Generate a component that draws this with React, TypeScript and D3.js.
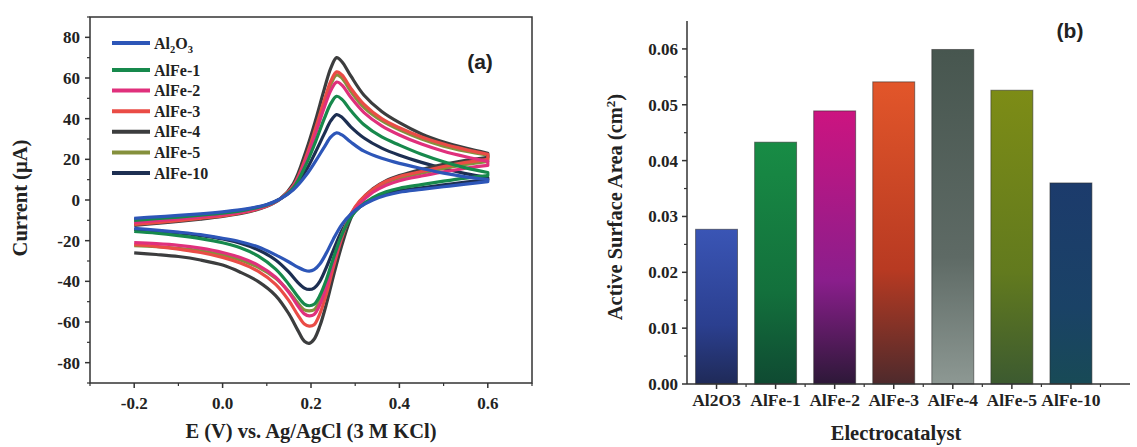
import React from "react";
import * as d3 from "d3";

// ---------- Panel (a): cyclic voltammograms ----------
const SERIES_NAMES = ["Al2O3", "AlFe-1", "AlFe-2", "AlFe-3", "AlFe-4", "AlFe-5", "AlFe-10"];

// potential (V) sampled on the forward (anodic) and reverse (cathodic) sweeps
const E_FWD = [-0.2, -0.15, -0.1, -0.05, 0.0, 0.05, 0.1, 0.13, 0.16, 0.19, 0.21, 0.23, 0.245, 0.258, 0.27, 0.29, 0.32, 0.36, 0.4, 0.45, 0.5, 0.55, 0.6];
const E_REV = [0.6, 0.55, 0.5, 0.45, 0.4, 0.37, 0.34, 0.31, 0.29, 0.27, 0.25, 0.235, 0.22, 0.207, 0.196, 0.185, 0.17, 0.15, 0.12, 0.08, 0.04, 0.0, -0.05, -0.1, -0.15, -0.2];

// current (µA) on the forward sweep
const I_FWD_AL2O3 = [-9, -8.3, -7.6, -6.8, -5.8, -4.5, -2.2, 0.5, 5, 12.5, 19, 26, 31, 33, 32, 28.5, 24, 20.5, 18, 15.5, 13.2, 11.4, 10];
const I_FWD_ALFE1 = [-10, -9.2, -8.4, -7.5, -6.5, -5, -2.5, 0.5, 6, 18, 28.5, 40, 47.5, 51, 49.5, 44, 37, 31, 27, 22.5, 18.8, 15.8, 13.5];
const I_FWD_ALFE2 = [-11, -10.2, -9.3, -8.3, -7.2, -5.6, -2.8, 0.5, 6.5, 20.5, 32.5, 45.5, 54, 58, 56.5, 50.5, 43, 36.5, 32, 27.5, 24, 21.3, 19];
const I_FWD_ALFE3 = [-12, -11.1, -10.1, -9, -7.8, -6, -3, 0.5, 7, 22, 35, 49, 58.5, 63, 61.5, 55, 47, 40, 35.5, 31, 27.5, 24.8, 22.5];
const I_FWD_ALFE4 = [-12.5, -11.5, -10.5, -9.4, -8.1, -6.3, -3.1, 0.5, 8, 25, 39, 54.5, 65, 70, 68, 61, 51.5, 43.5, 38, 32.5, 28.5, 25.5, 23];
const I_FWD_ALFE5 = [-11, -10.2, -9.3, -8.3, -7.2, -5.6, -2.8, 0.5, 7, 21.5, 34.5, 48, 57, 61.5, 60, 53.5, 45.5, 39, 34.5, 30, 26.5, 24, 22];
const I_FWD_ALFE10 = [-9.5, -8.8, -8, -7.2, -6.2, -4.8, -2.4, 0.5, 5.5, 15, 23.5, 32.5, 39, 42, 40.7, 36, 30.5, 25.5, 22, 18.5, 15.5, 13, 11];

// current (µA) on the reverse sweep
const I_REV_AL2O3 = [9, 7.8, 6.5, 5.2, 3.8, 2.3, 0, -3.5, -7, -12, -19.5, -26, -31.5, -34.3, -35, -34.5, -33, -30.5, -27, -23, -20.5, -18.8, -17, -15.8, -14.8, -14];
const I_REV_ALFE1 = [12, 10.8, 9.3, 7.6, 5.8, 4, 1.2, -3.5, -8.5, -17, -29, -39, -47, -51.3, -52, -51.2, -47.5, -41.5, -34, -27.5, -23.5, -21, -19, -17.5, -16.3, -15.5];
const I_REV_ALFE2 = [17, 15.6, 13.8, 11.8, 9.5, 7.3, 3.8, -2, -7.5, -17.5, -31, -42.5, -51.5, -56.3, -57, -56, -52, -45.5, -38, -32, -28.3, -25.8, -23.7, -22.3, -21.5, -21];
const I_REV_ALFE3 = [20, 18.5, 16.5, 14, 11.6, 9.2, 5.3, -0.5, -7, -18.5, -33.5, -46, -56, -61.3, -62, -61, -56.5, -49.5, -41.5, -35, -31, -28.2, -25.8, -24.2, -22.8, -22];
const I_REV_ALFE4 = [21, 19.5, 17.5, 15, 12, 9.5, 5.5, -1, -9, -22, -38, -51, -62, -68.5, -70.5, -69.5, -64, -56, -47, -40, -35.5, -32, -29.5, -27.8, -26.8, -26];
const I_REV_ALFE5 = [19, 17.5, 15.5, 13.2, 10.8, 8.5, 4.8, -1, -7, -17, -30, -41, -49.5, -54, -54.5, -54, -50.5, -45, -38.5, -33, -29.5, -27, -25, -23.8, -23, -22.5];
const I_REV_ALFE10 = [10, 8.8, 7.4, 6, 4.5, 3, 0.6, -3.5, -8, -15, -25, -33, -40, -43.3, -44, -43.3, -40.5, -35.5, -29.5, -24.5, -21.3, -19.2, -17.5, -16.2, -15.2, -14.5];

const I_FWD = [I_FWD_AL2O3, I_FWD_ALFE1, I_FWD_ALFE2, I_FWD_ALFE3, I_FWD_ALFE4, I_FWD_ALFE5, I_FWD_ALFE10];
const I_REV = [I_REV_AL2O3, I_REV_ALFE1, I_REV_ALFE2, I_REV_ALFE3, I_REV_ALFE4, I_REV_ALFE5, I_REV_ALFE10];

const CV_COLORS = ["#2d56b8", "#17894c", "#e0307c", "#ea4c46", "#3c3d3e", "#85903c", "#1d2f52"];

const X_TICKS_A = [-0.2, 0.0, 0.2, 0.4, 0.6];
const Y_TICKS_A = [-80, -60, -40, -20, 0, 20, 40, 60, 80];

// ---------- Panel (b): active surface area ----------
const CATALYSTS = ["Al2O3", "AlFe-1", "AlFe-2", "AlFe-3", "AlFe-4", "AlFe-5", "AlFe-10"];
const AREA = [0.0277, 0.0433, 0.0489, 0.0541, 0.0599, 0.0526, 0.0360];
const Y_TICKS_B = [0.0, 0.01, 0.02, 0.03, 0.04, 0.05, 0.06];

const BAR_TOP = ["#3a55b5", "#188c45", "#cc1480", "#e2562a", "#47564f", "#7d8c16", "#1c3b6c"];
const BAR_MID = ["#2b3f8f", "#13703c", "#8a1e8c", "#b83a22", "#5e6a65", "#627a1e", "#1a4266"];
const BAR_BOTTOM = ["#1f2a58", "#0f4a32", "#2d1838", "#4e2a2c", "#8d9893", "#3c5a30", "#184a56"];

const SERIF = "'Liberation Serif', 'Times New Roman', serif";
const SANS = "'Liberation Sans', Arial, sans-serif";
const INK = "#222";
const AXIS = "#333";
const TICK_FS = 17;
const TITLE_FS = 20.5;

export default function App() {
  // scales for panel (a)
  const xA = d3.scaleLinear().domain([-0.3, 0.7]).range([90, 532]);
  const yA = d3.scaleLinear().domain([-90, 90]).range([383, 17]);

  const line = d3
    .line<[number, number]>()
    .x((d) => xA(d[0]))
    .y((d) => yA(d[1]))
    .curve(d3.curveCatmullRom.alpha(0.5));

  const loops = SERIES_NAMES.map((_, s) => {
    const fwd = E_FWD.map((e, i) => [e, I_FWD[s][i]] as [number, number]);
    const rev = E_REV.map((e, i) => [e, I_REV[s][i]] as [number, number]);
    return (line(fwd) || "") + (line(rev) || "").replace(/^M/, "L");
  });

  const xMinorA = d3.range(-0.3, 0.7001, 0.1).filter((v) => !X_TICKS_A.some((t) => Math.abs(t - v) < 1e-6));
  const yMinorA = d3.range(-90, 90.001, 10).filter((v) => !Y_TICKS_A.some((t) => Math.abs(t - v) < 1e-6));

  // scales for panel (b)
  const xB = d3.scaleLinear().domain([-0.5, 7]).range([687, 1130]);
  const yB = d3.scaleLinear().domain([0, 0.065]).range([384, 21]);
  const barW = xB(0.71) - xB(0);
  const yMinorB = d3.range(0.005, 0.065, 0.01);
  const xMinorB = d3.range(0.5, 7.01, 1);

  const legendY = (i: number) => (i === 0 ? 43 : 70 + (i - 1) * 20.6);

  return (
    <svg
      width={1137}
      height={447}
      viewBox="0 0 1137 447"
      style={{ position: "absolute", left: 0, top: 0, background: "#fff" }}
    >
      <defs>
        {CATALYSTS.map((c, i) => (
          <linearGradient key={c} id={`barGrad${i}`} x1="0" y1="0" x2="0" y2="1">
            <stop offset="0" stopColor={BAR_TOP[i]} />
            <stop offset="0.62" stopColor={BAR_MID[i]} />
            <stop offset="1" stopColor={BAR_BOTTOM[i]} />
          </linearGradient>
        ))}
        <clipPath id="clipA">
          <rect x={90} y={17} width={442} height={366} />
        </clipPath>
      </defs>

      {/* ===== Panel (a) ===== */}
      <g clipPath="url(#clipA)">
        {loops
          .map((d, s) => ({ d, s }))
          .reverse()
          .map(({ d, s }) => (
            <path key={SERIES_NAMES[s]} d={d} fill="none" stroke={CV_COLORS[s]} strokeWidth={3.2} strokeLinejoin="round" />
          ))}
      </g>

      {/* frame */}
      <rect x={90} y={17} width={442} height={366} fill="none" stroke={AXIS} strokeWidth={1.5} />

      {/* y ticks */}
      {Y_TICKS_A.map((t) => (
        <g key={`ya${t}`}>
          <line x1={85} x2={90} y1={yA(t)} y2={yA(t)} stroke={AXIS} strokeWidth={1.5} />
          <text x={80} y={yA(t)} dy="0.35em" textAnchor="end" fontFamily={SERIF} fontWeight="bold" fontSize={TICK_FS} fill={INK}>
            {t}
          </text>
        </g>
      ))}
      {yMinorA.map((t) => (
        <line key={`yam${t}`} x1={87} x2={90} y1={yA(t)} y2={yA(t)} stroke={AXIS} strokeWidth={1.2} />
      ))}

      {/* x ticks */}
      {X_TICKS_A.map((t) => (
        <g key={`xa${t}`}>
          <line x1={xA(t)} x2={xA(t)} y1={383} y2={388} stroke={AXIS} strokeWidth={1.5} />
          <text x={xA(t)} y={409} textAnchor="middle" fontFamily={SERIF} fontWeight="bold" fontSize={TICK_FS} fill={INK}>
            {t.toFixed(1)}
          </text>
        </g>
      ))}
      {xMinorA.map((t) => (
        <line key={`xam${t.toFixed(2)}`} x1={xA(t)} x2={xA(t)} y1={383} y2={386} stroke={AXIS} strokeWidth={1.2} />
      ))}

      <text x={311} y={438} textAnchor="middle" fontFamily={SERIF} fontWeight="bold" fontSize={TITLE_FS} fill={INK}>
        E (V) vs. Ag/AgCl (3 M KCl)
      </text>
      <text
        transform="translate(27,198) rotate(-90)"
        textAnchor="middle"
        fontFamily={SERIF}
        fontWeight="bold"
        fontSize={TITLE_FS}
        fill={INK}
      >
        Current (µA)
      </text>

      {/* legend */}
      {SERIES_NAMES.map((n, i) => (
        <g key={`lg${n}`}>
          <line x1={112} x2={150} y1={legendY(i)} y2={legendY(i)} stroke={CV_COLORS[i]} strokeWidth={4} />
          {n === "Al2O3" ? (
            <text x={154} y={legendY(i)} dy="0.35em" fontFamily={SERIF} fontWeight="bold" fontSize={16} fill={INK}>
              Al
              <tspan fontSize={10.5} dy={4}>2</tspan>
              <tspan dy={-4}>O</tspan>
              <tspan fontSize={10.5} dy={4}>3</tspan>
            </text>
          ) : (
            <text x={154} y={legendY(i)} dy="0.35em" fontFamily={SERIF} fontWeight="bold" fontSize={16} fill={INK}>
              {n}
            </text>
          )}
        </g>
      ))}

      <text x={480} y={69} textAnchor="middle" fontFamily={SANS} fontWeight="bold" fontSize={21} fill={INK}>
        (a)
      </text>

      {/* ===== Panel (b) ===== */}
      {CATALYSTS.map((c, i) => (
        <rect
          key={`bar${c}`}
          x={xB(i) - barW / 2}
          y={yB(AREA[i])}
          width={barW}
          height={yB(0) - yB(AREA[i])}
          fill={`url(#barGrad${i})`}
          stroke="#2a2a2a"
          strokeOpacity={0.55}
          strokeWidth={1}
        />
      ))}

      <line x1={687} x2={687} y1={21} y2={384} stroke={AXIS} strokeWidth={1.5} />
      <line x1={687} x2={1130} y1={384} y2={384} stroke={AXIS} strokeWidth={1.5} />

      {Y_TICKS_B.map((t) => (
        <g key={`yb${t}`}>
          <line x1={682} x2={687} y1={yB(t)} y2={yB(t)} stroke={AXIS} strokeWidth={1.5} />
          <text x={678} y={yB(t)} dy="0.35em" textAnchor="end" fontFamily={SERIF} fontWeight="bold" fontSize={TICK_FS} fill={INK}>
            {t.toFixed(2)}
          </text>
        </g>
      ))}
      {yMinorB.map((t) => (
        <line key={`ybm${t.toFixed(3)}`} x1={684} x2={687} y1={yB(t)} y2={yB(t)} stroke={AXIS} strokeWidth={1.2} />
      ))}

      {CATALYSTS.map((c, i) => (
        <g key={`xb${c}`}>
          <line x1={xB(i)} x2={xB(i)} y1={384} y2={389} stroke={AXIS} strokeWidth={1.5} />
          <text x={xB(i)} y={406} textAnchor="middle" fontFamily={SERIF} fontWeight="bold" fontSize={17.5} fill={INK}>
            {c}
          </text>
        </g>
      ))}
      {xMinorB.map((t) => (
        <line key={`xbm${t}`} x1={xB(t)} x2={xB(t)} y1={384} y2={387} stroke={AXIS} strokeWidth={1.2} />
      ))}

      <text x={896} y={440} textAnchor="middle" fontFamily={SERIF} fontWeight="bold" fontSize={TITLE_FS} fill={INK}>
        Electrocatalyst
      </text>
      <text
        transform="translate(622,207) rotate(-90)"
        textAnchor="middle"
        fontFamily={SERIF}
        fontWeight="bold"
        fontSize={TITLE_FS}
        fill={INK}
      >
        Active Surface Area (cm
        <tspan fontSize={13} dy={-7}>2</tspan>
        <tspan dy={7}>)</tspan>
      </text>

      <text x={1070} y={38} textAnchor="middle" fontFamily={SANS} fontWeight="bold" fontSize={21} fill={INK}>
        (b)
      </text>
    </svg>
  );
}
